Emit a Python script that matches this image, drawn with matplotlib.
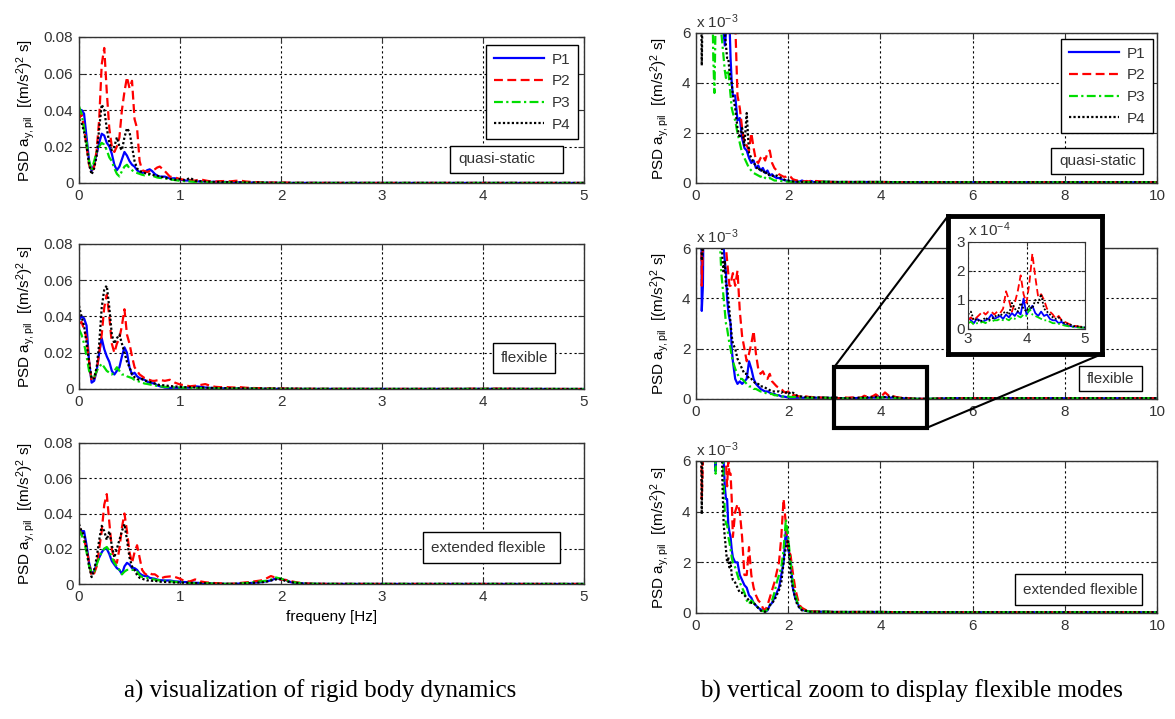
import numpy as np
import matplotlib
matplotlib.use("Agg")
import matplotlib.pyplot as plt
from matplotlib.patches import Rectangle, ConnectionPatch

plt.rcParams["font.family"] = ["Liberation Sans", "DejaVu Sans"]
plt.rcParams["font.size"] = 11
plt.rcParams["mathtext.default"] = "regular"
plt.rcParams["text.color"] = "#333333"
plt.rcParams["axes.edgecolor"] = "#333333"
plt.rcParams["xtick.color"] = "#333333"
plt.rcParams["ytick.color"] = "#333333"

# frequency grid [Hz]
f_lo = [0, 0.025, 0.05, 0.075, 0.1, 0.125, 0.15, 0.175, 0.2, 0.225, 0.25, 0.275, 0.3,
        0.325, 0.35, 0.375, 0.4, 0.425, 0.45, 0.475, 0.5, 0.525, 0.55, 0.575, 0.6,
        0.625, 0.65, 0.675, 0.7, 0.725, 0.75, 0.775, 0.8,
        0.85, 0.9, 0.95, 1.0, 1.05, 1.1, 1.15, 1.2, 1.25, 1.3, 1.35, 1.4, 1.45, 1.5,
        1.55, 1.6, 1.65, 1.7, 1.75, 1.8, 1.85, 1.9, 1.95, 2.0, 2.05, 2.1, 2.15, 2.2,
        2.25, 2.3, 2.35, 2.4, 2.45, 2.5, 2.55, 2.6]
f_tail = [2.8, 3.0, 3.5, 4.0, 4.5, 5.0, 5.5, 6.0, 6.5, 7.0, 7.5, 8.0, 8.5, 9.0, 9.5, 10.0]
tail = [0.05, 0.04, 0.04, 0.04, 0.03, 0.03, 0.03, 0.03, 0.03, 0.03, 0.03, 0.03, 0.03, 0.03, 0.03, 0.03]

# PSD values in 1e-3 (m/s^2)^2 s
# quasi-static
qs_p1 = [40, 40, 38, 25, 12, 6.5, 10, 16, 22, 27, 26, 22, 20, 16, 10, 7, 9, 13, 17, 15, 12, 10, 9, 7, 6,
         5.5, 6, 7, 7.5, 6.5, 5, 4, 3.5,
         3.5, 2.5, 2.6, 1.8, 1.4, 1.3, 1.0, 0.8, 0.9, 0.6, 0.7, 0.5, 0.6, 0.4, 0.5, 0.3, 0.35, 0.25,
         0.2, 0.2, 0.15, 0.12, 0.1, 0.08, 0.07, 0.06, 0.05, 0.05, 0.06, 0.1, 0.06, 0.05, 0.04, 0.08, 0.04, 0.03]
qs_p2 = [35, 38, 30, 20, 10, 6.2, 9, 18, 35, 65, 74, 50, 30, 20, 17, 20, 25, 40, 50, 58, 52, 56, 35, 30, 12,
         7, 6.5, 6, 6.5, 7, 7.5, 8.5, 9,
         6.5, 3.5, 3.0, 2.2, 1.6, 1.5, 1.3, 2.0, 1.4, 0.9, 0.8, 1.0, 1.1, 0.9, 1.2, 1.3, 0.8, 0.6,
         0.5, 0.35, 0.3, 0.25, 0.25, 0.3, 0.25, 0.15, 0.12, 0.1, 0.08, 0.08, 0.06, 0.08, 0.06, 0.1, 0.06, 0.08]
qs_p3 = [42, 38, 30, 22, 12, 7, 12, 17, 20, 22, 21, 18, 14, 12, 8, 5, 3.6, 6.5, 9, 10, 8, 7, 6, 5.5, 5,
         4.5, 4.2, 4.5, 4.5, 4, 3.5, 3, 2.8,
         2.5, 2.0, 1.6, 1.2, 1.0, 0.8, 0.6, 0.5, 0.4, 0.35, 0.3, 0.25, 0.3, 0.2, 0.15, 0.2, 0.15, 0.1,
         0.1, 0.1, 0.08, 0.06, 0.06, 0.05, 0.05, 0.04, 0.04, 0.03, 0.03, 0.03, 0.03, 0.03, 0.03, 0.03, 0.03, 0.03]
qs_p4 = [35, 33, 28, 20, 10, 4.7, 8, 15, 30, 43, 40, 30, 22, 18, 20, 25, 20, 18, 25, 30, 28, 20, 12, 8, 6.5,
         6, 5.5, 5, 5, 4.5, 4.2, 4, 3.5,
         3.0, 2.2, 1.8, 2.2, 1.5, 2.8, 1.2, 1.0, 0.8, 0.7, 0.5, 0.6, 0.4, 0.5, 0.3, 0.35, 0.3, 0.25,
         0.3, 0.25, 0.2, 0.15, 0.1, 0.1, 0.08, 0.06, 0.05, 0.05, 0.04, 0.04, 0.04, 0.03, 0.03, 0.03, 0.03, 0.03]

# flexible
fx_p1 = [38, 40, 39, 35, 15, 3.5, 4.5, 10, 20, 28, 22, 18, 15, 10, 8, 10, 12, 18, 23, 20, 12, 8, 9, 7, 6,
         5.5, 5, 4, 3.5, 3.2, 3, 2, 1.5,
         0.8, 0.6, 0.7, 0.6, 0.7, 0.8, 1.5, 1.2, 0.8, 0.6, 0.5, 0.4, 0.35, 0.3, 0.3, 0.25, 0.2, 0.2,
         0.15, 0.15, 0.1, 0.1, 0.08, 0.06, 0.05, 0.05, 0.05, 0.05, 0.05, 0.05, 0.05, 0.05, 0.05, 0.05, 0.05, 0.05]
fx_p2 = [36, 37, 33, 28, 15, 4.5, 6, 10, 20, 30, 45, 52, 40, 25, 20, 25, 28, 35, 44, 30, 25, 18, 12, 10, 8,
         7, 6, 5.5, 5, 4.5, 4.5, 4.8, 5,
         4.5, 5.1, 3.5, 2.5, 2.0, 1.5, 1.8, 2.2, 2.7, 1.8, 1.2, 1.0, 1.1, 0.9, 0.8, 1.0, 0.7, 0.6,
         0.5, 0.45, 0.4, 0.3, 0.25, 0.3, 0.2, 0.15, 0.15, 0.12, 0.1, 0.12, 0.1, 0.1, 0.08, 0.08, 0.07, 0.07]
fx_p3 = [33, 30, 25, 18, 10, 6.2, 6.5, 10, 12, 14, 12, 10, 9, 8, 10, 12, 10, 8, 8, 7, 6.5, 6, 5, 4.5, 4,
         3.5, 3, 2.8, 2.5, 2.2, 2, 1.7, 1.5,
         1.2, 1.0, 0.8, 0.8, 0.7, 0.6, 0.5, 0.5, 0.4, 0.4, 0.35, 0.3, 0.3, 0.25, 0.2, 0.2, 0.2, 0.15,
         0.15, 0.12, 0.1, 0.1, 0.1, 0.1, 0.08, 0.08, 0.08, 0.06, 0.06, 0.05, 0.05, 0.05, 0.05, 0.05, 0.05, 0.05]
fx_p4 = [46, 40, 35, 25, 15, 5.5, 6, 12, 25, 45, 55, 57, 45, 30, 25, 28, 30, 25, 20, 15, 12, 8, 6.5, 5.5, 5,
         5.5, 4.5, 4.5, 4, 3.5, 3, 2.5, 2.2,
         2.0, 1.6, 1.4, 1.2, 1.0, 1.0, 0.8, 0.8, 0.7, 0.6, 0.6, 0.5, 0.5, 0.45, 0.4, 0.35, 0.3, 0.3,
         0.3, 0.3, 0.25, 0.3, 0.25, 0.3, 0.2, 0.25, 0.2, 0.12, 0.1, 0.1, 0.08, 0.08, 0.07, 0.07, 0.06, 0.06]

# flexible, 3-5 Hz detail (values in 1e-4)
f_in = [3.0, 3.05, 3.1, 3.15, 3.2, 3.25, 3.3, 3.35, 3.4, 3.45, 3.5, 3.55, 3.6, 3.65, 3.7, 3.75, 3.8,
        3.85, 3.9, 3.95, 4.0, 4.05, 4.1, 4.15, 4.2, 4.25, 4.3, 4.35, 4.4, 4.45, 4.5, 4.55, 4.6, 4.65,
        4.7, 4.75, 4.8, 4.85, 4.9, 4.95, 5.0]
in_p1 = [0.4, 0.3, 0.2, 0.35, 0.3, 0.25, 0.3, 0.35, 0.5, 0.35, 0.4, 0.45, 0.35, 0.5, 0.4, 0.55, 0.45,
         0.6, 0.5, 1.05, 0.5, 0.65, 0.8, 0.55, 0.45, 0.6, 0.45, 0.5, 0.35, 0.3, 0.3, 0.2, 0.25, 0.15,
         0.12, 0.1, 0.08, 0.08, 0.06, 0.05, 0.05]
in_p2 = [0.3, 0.4, 0.3, 0.4, 0.5, 0.6, 0.5, 0.6, 0.6, 0.5, 0.6, 0.55, 0.7, 1.3, 1.0, 0.6, 0.9,
         1.3, 1.85, 1.2, 0.9, 1.6, 2.6, 1.8, 1.1, 1.2, 1.0, 0.7, 0.6, 0.5, 0.35, 0.45, 0.3, 0.25,
         0.2, 0.15, 0.12, 0.1, 0.08, 0.08, 0.06]
in_p3 = [0.2, 0.25, 0.15, 0.2, 0.2, 0.25, 0.2, 0.3, 0.25, 0.3, 0.3, 0.35, 0.3, 0.35, 0.3, 0.4, 0.35,
         0.45, 0.4, 0.5, 0.45, 0.7, 0.5, 0.45, 0.4, 0.35, 0.3, 0.3, 0.25, 0.2, 0.2, 0.18, 0.15, 0.12,
         0.1, 0.08, 0.07, 0.06, 0.05, 0.05, 0.04]
in_p4 = [0.5, 0.6, 0.3, 0.35, 0.25, 0.3, 0.4, 0.3, 0.35, 0.4, 0.5, 0.45, 0.55, 0.6, 0.5, 0.9, 0.7,
         0.6, 0.9, 0.7, 0.6, 0.8, 0.7, 1.0, 0.9, 1.2, 0.7, 0.6, 0.5, 0.4, 0.35, 0.4, 0.3, 0.2,
         0.18, 0.15, 0.1, 0.1, 0.08, 0.06, 0.05]

# extended flexible
ex_p1 = [30, 30, 30, 22, 12, 6.3, 7, 12, 15, 18, 20, 20, 17, 13, 11, 9, 8, 5.6, 10, 12, 11, 9, 9, 8, 6,
         5, 4.5, 4.5, 3.5, 3.2, 3, 2.5, 2.2,
         2.0, 2.0, 1.5, 1.3, 1.1, 1.0, 0.7, 0.6, 0.4, 0.3, 0.2, 0.15, 0.1, 0.05, 0.1, 0.3, 0.4, 0.6,
         0.8, 1.0, 1.5, 2.0, 3.3, 2.5, 2.2, 1.0, 0.6, 0.4, 0.2, 0.15, 0.1, 0.08, 0.06, 0.05, 0.05, 0.05]
ex_p2 = [32, 28, 25, 20, 12, 4.5, 6, 10, 20, 30, 45, 51, 35, 20, 13, 12, 20, 32, 40, 30, 18, 12, 18, 22, 15,
         8, 6, 5, 6, 5.5, 5.5, 4.5, 3,
         4.0, 4.3, 4.0, 3.0, 1.5, 1.5, 2.6, 1.5, 1.0, 0.7, 0.5, 0.4, 0.2, 0.1, 0.3, 0.6, 0.9, 1.2,
         1.6, 2.0, 3.0, 4.5, 3.5, 2.5, 2.3, 1.6, 1.0, 0.6, 0.3, 0.2, 0.15, 0.1, 0.08, 0.07, 0.06, 0.06]
ex_p3 = [31, 28, 24, 18, 10, 6.5, 7, 11, 15, 18, 20, 21, 19, 15, 12, 10, 8, 5.5, 7, 8, 8, 8, 8, 7, 5,
         4, 3.5, 3.5, 3, 2.8, 2.5, 2.2, 2,
         1.8, 1.5, 1.2, 1.0, 0.8, 0.5, 0.35, 0.5, 0.4, 0.3, 0.2, 0.1, 0.08, 0.05, 0.15, 0.3, 0.5, 0.8,
         1.2, 1.5, 1.8, 2.5, 3.7, 3.0, 2.0, 1.2, 0.8, 0.4, 0.25, 0.15, 0.1, 0.08, 0.06, 0.05, 0.05, 0.05]
ex_p4 = [34, 30, 28, 20, 10, 3.9, 8, 15, 25, 33, 30, 25, 30, 22, 15, 20, 25, 30, 34, 25, 15, 10, 8, 5, 3.5,
         3, 2.5, 2, 2.2, 1.8, 2, 1.5, 1.3,
         1.2, 1.0, 0.8, 0.8, 0.7, 0.6, 0.5, 0.4, 0.4, 0.3, 0.2, 0.1, 0.05, 0.05, 0.1, 0.3, 0.4, 0.5,
         0.7, 0.9, 1.2, 2.0, 2.6, 2.9, 1.5, 1.0, 0.6, 0.3, 0.2, 0.1, 0.1, 0.08, 0.06, 0.05, 0.05, 0.05]

labels = ["P1", "P2", "P3", "P4"]
colors = ["#0000ff", "#ff0000", "#00dd00", "#000000"]
styles = ["-", (0, (4, 2)), (0, (4, 1.5, 1, 1.5)), (0, (1, 1))]

scenarios = [
    ("quasi-static", [qs_p1, qs_p2, qs_p3, qs_p4], None),
    ("flexible", [fx_p1, fx_p2, fx_p3, fx_p4], [in_p1, in_p2, in_p3, in_p4]),
    ("extended flexible", [ex_p1, ex_p2, ex_p3, ex_p4], None),
]


def build(vals, detail):
    if detail is None:
        return np.array(f_lo + f_tail), np.array(vals + tail)
    f = f_lo + f_tail[:1] + f_in + f_tail[6:]
    y = vals + tail[:1] + [v * 0.1 for v in detail] + tail[6:]
    return np.array(f), np.array(y)


def style_axes(ax):
    ax.tick_params(direction="in", top=True, right=True, length=4, labelsize=11, pad=4)
    ax.grid(True, color="k", linestyle=(0, (2, 2.5)), linewidth=0.8)
    for s in ax.spines.values():
        s.set_linewidth(1.0)


fig = plt.figure(figsize=(11.75, 7.19), dpi=100)
W, H = 1175.0, 719.0


def add_ax(x0, y0, x1, y1, **kw):
    return fig.add_axes([x0 / W, 1 - y1 / H, (x1 - x0) / W, (y1 - y0) / H], **kw)


def label_box(x0, y0, x1, y1, text):
    fig.add_artist(Rectangle((x0 / W, 1 - y1 / H), (x1 - x0) / W, (y1 - y0) / H,
                             transform=fig.transFigure, facecolor="white", edgecolor="black",
                             lw=1, zorder=3))
    fig.text((x0 + 8) / W, 1 - (y0 + y1) / 2 / H, text, ha="left", va="center",
             fontsize=11, zorder=4)


left_rows = [(37, 183), (244, 389), (443, 584)]
right_rows = [(33, 183), (248, 399), (461, 613)]
left_boxes = [(450, 146, 563, 173), (493, 343, 555, 373), (423, 532, 560, 563)]
right_boxes = [(1051, 148, 1143, 174), (1079, 366, 1142, 391), (1015, 574, 1142, 605)]
ylab = "PSD a$_{y,pil}$  [(m/s$^2$)$^2$ s]"

axes_right = []
for i, (name, series, detail) in enumerate(scenarios):
    axl = add_ax(79, left_rows[i][0], 584, left_rows[i][1])
    axr = add_ax(696, right_rows[i][0], 1157, right_rows[i][1])
    axes_right.append(axr)
    for k in range(4):
        f, y = build(series[k], None if detail is None else detail[k])
        axl.plot(f, y * 1e-3, color=colors[k], linestyle=styles[k], lw=1.6, label=labels[k])
        axr.plot(f, y, color=colors[k], linestyle=styles[k], lw=1.6, label=labels[k])

    axl.set_xlim(0, 5)
    axl.set_ylim(0, 0.08)
    axl.set_xticks([0, 1, 2, 3, 4, 5])
    axl.set_yticks([0, 0.02, 0.04, 0.06, 0.08])
    axl.set_yticklabels(["0", "0.02", "0.04", "0.06", "0.08"])
    axl.set_ylabel(ylab, fontsize=11, labelpad=5)
    style_axes(axl)

    axr.set_xlim(0, 10)
    axr.set_ylim(0, 6)
    axr.set_xticks([0, 2, 4, 6, 8, 10])
    axr.set_yticks([0, 2, 4, 6])
    axr.set_ylabel(ylab, fontsize=11, labelpad=8)
    axr.text(0, 1.015, "x 10$^{-3}$", transform=axr.transAxes, ha="left", va="bottom", fontsize=11)
    style_axes(axr)

    label_box(*left_boxes[i], name)
    label_box(*right_boxes[i], name)

    if i == 0:
        for ax, anc in ((axl, (0.988, 0.945)), (axr, (0.991, 0.96))):
            leg = ax.legend(loc="upper right", bbox_to_anchor=anc, fontsize=11, handlelength=3.3,
                            fancybox=False, framealpha=1, edgecolor="black", labelspacing=0.5,
                            borderpad=0.5, handletextpad=0.5, borderaxespad=0)
            leg.get_frame().set_linewidth(1.0)
            leg.set_zorder(6)

    if i == 2:
        axl.set_xlabel("frequeny [Hz]", fontsize=11, labelpad=5)

# zoom box and inset in the flexible panel
axm = axes_right[1]
axm.add_patch(Rectangle((3, -1.15), 2, 2.42, fill=False, edgecolor="black", lw=3,
                        clip_on=False, zorder=10))

frame = add_ax(948, 216, 1102, 354, zorder=5)
frame.set_xticks([])
frame.set_yticks([])
frame.set_facecolor("white")
for s in frame.spines.values():
    s.set_linewidth(3.5)
    s.set_edgecolor("black")

axi = add_ax(968, 242, 1085, 329, zorder=6)
for k in range(4):
    axi.plot(f_in, scenarios[1][2][k], color=colors[k], linestyle=styles[k], lw=1.3)
axi.set_xlim(3, 5)
axi.set_ylim(0, 3)
axi.set_xticks([3, 4, 5])
axi.set_yticks([0, 1, 2, 3])
axi.tick_params(direction="in", top=True, right=True, length=3, labelsize=11, pad=2)
axi.grid(True, color="k", linestyle=(0, (2, 2.5)), linewidth=0.8)
axi.text(0, 1.03, "x 10$^{-4}$", transform=axi.transAxes, ha="left", va="bottom", fontsize=11)

for xyA, xyB in (((3, 1.27), (0, 1)), ((5, -1.15), (1, 0))):
    con = ConnectionPatch(xyA=xyA, coordsA=axm.transData, xyB=xyB, coordsB=frame.transAxes,
                          color="black", lw=1.5)
    con.set_zorder(4)
    fig.add_artist(con)

fig.text(320 / W, 1 - 691 / H, "a) visualization of rigid body dynamics", ha="center", va="center",
         fontsize=18, family="Liberation Serif", color="black")
fig.text(911 / W, 1 - 691 / H, "b) vertical zoom to display flexible modes", ha="center", va="center",
         fontsize=18, family="Liberation Serif", color="black")

fig.savefig("out.png", dpi=100, facecolor="white")
